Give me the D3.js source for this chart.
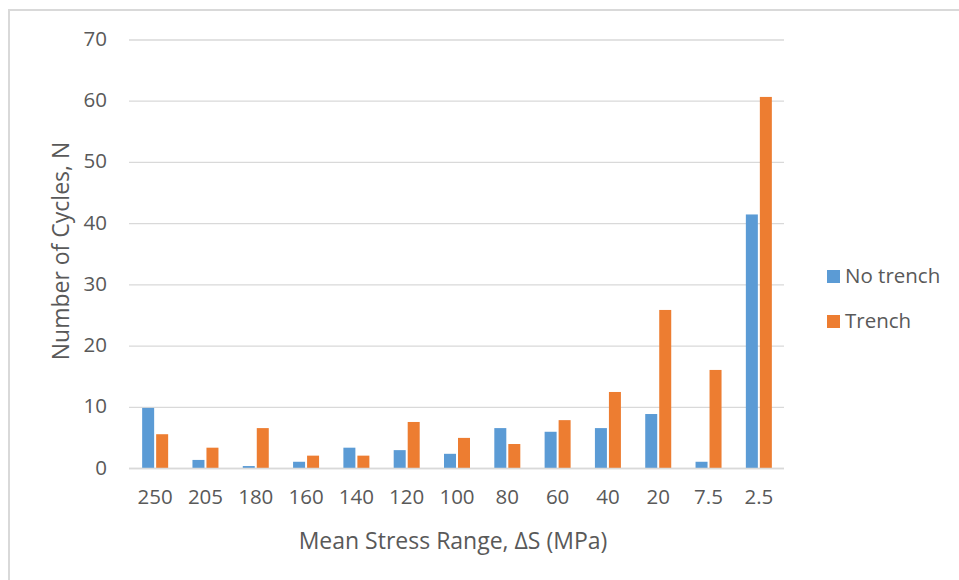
<!DOCTYPE html>
<html>
<head>
<meta charset="utf-8">
<script src="https://cdn.jsdelivr.net/npm/d3@7"></script>
<style>
  html, body { margin: 0; padding: 0; background: #fff; }
  svg { display: block; }
  text { font-family: "Open Sans", "Noto Sans", sans-serif; fill: #595959; }
</style>
</head>
<body>
<script>
const categories = ["250","205","180","160","140","120","100","80","60","40","20","7.5","2.5"];
const noTrench = [9.9, 1.4, 0.4, 1.1, 3.4, 3.0, 2.4, 6.6, 6.0, 6.6, 8.9, 1.1, 41.5];
const trench   = [5.6, 3.4, 6.6, 2.1, 2.1, 7.6, 5.0, 4.0, 7.9, 12.5, 25.9, 16.1, 60.7];
const yTicks = [0, 10, 20, 30, 40, 50, 60, 70];
const seriesNames = ["No trench", "Trench"];
const seriesColors = ["#5B9BD5", "#ED7D31"];

const W = 959, H = 580;
const tickFont = 20.5, titleFont = 23, legendFont = 20.5;
const svg = d3.select("body").append("svg").attr("width", W).attr("height", H);

// chart border
svg.append("path")
  .attr("d", `M9,${H} L9,10 L${W},10`)
  .attr("fill", "none").attr("stroke", "#d9d9d9").attr("stroke-width", 2);

const x = d3.scaleBand().domain(categories).range([130, 784]);
const y = d3.scaleLinear().domain([0, 70]).range([468.5, 40]);

// gridlines
svg.append("g").selectAll("line").data(yTicks).join("line")
  .attr("x1", 129).attr("x2", 784)
  .attr("y1", d => y(d)).attr("y2", d => y(d))
  .attr("stroke", "#d9d9d9").attr("stroke-width", 1.3);

// y tick labels
svg.append("g").selectAll("text").data(yTicks).join("text")
  .attr("x", 107).attr("y", d => y(d) + 6)
  .attr("text-anchor", "end").attr("font-size", tickFont)
  .text(d => d);

// bars
const barW = 12, gap = 2;
const series = [noTrench, trench];
series.forEach((vals, si) => {
  svg.append("g").selectAll("rect").data(vals).join("rect")
    .attr("x", (d, i) => x(categories[i]) + x.bandwidth() / 2 - barW - gap / 2 + si * (barW + gap))
    .attr("y", d => y(d))
    .attr("width", barW)
    .attr("height", d => y(0) - y(d))
    .attr("fill", seriesColors[si]);
});

// baseline
svg.append("line")
  .attr("x1", 129).attr("x2", 784).attr("y1", y(0)).attr("y2", y(0))
  .attr("stroke", "#d9d9d9").attr("stroke-width", 1.3);

// x tick labels
svg.append("g").selectAll("text").data(categories).join("text")
  .attr("x", d => x(d) + x.bandwidth() / 2)
  .attr("y", 504)
  .attr("text-anchor", "middle").attr("font-size", tickFont)
  .text(d => d);

// axis titles
svg.append("text")
  .attr("x", 453).attr("y", 549)
  .attr("text-anchor", "middle").attr("font-size", titleFont)
  .text("Mean Stress Range, ΔS (MPa)");

svg.append("text")
  .attr("transform", "translate(68.5,251) rotate(-90)")
  .attr("text-anchor", "middle").attr("font-size", titleFont)
  .text("Number of Cycles, N");

// legend
const lg = svg.append("g");
seriesNames.forEach((name, i) => {
  const ly = 270 + i * 45;
  lg.append("rect").attr("x", 827).attr("y", ly).attr("width", 13).attr("height", 13)
    .attr("fill", seriesColors[i]);
  lg.append("text").attr("x", 845).attr("y", ly + 13)
    .attr("font-size", legendFont).text(name);
});
</script>
</body>
</html>
